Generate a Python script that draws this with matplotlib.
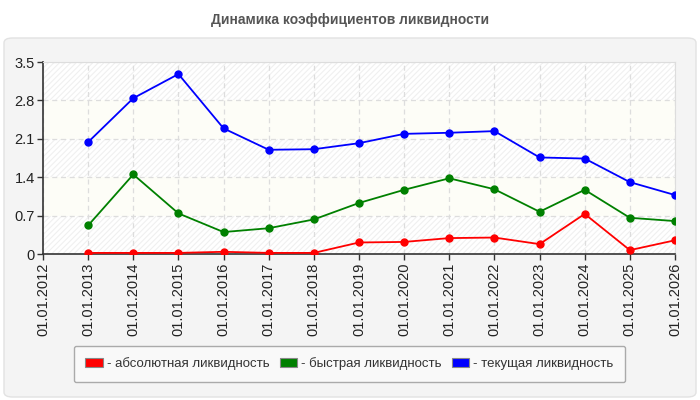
import matplotlib
matplotlib.use("Agg")
import matplotlib.pyplot as plt
from matplotlib.patches import FancyBboxPatch, Patch

plt.rcParams['font.family'] = ['Liberation Sans', 'DejaVu Sans']
plt.rcParams['hatch.linewidth'] = 0.8

years = list(range(2012, 2027))
tick_labels = ['01.01.%d' % y for y in years]
data_years = list(range(2013, 2027))

absolute = [0.02, 0.02, 0.02, 0.04, 0.02, 0.02, 0.21, 0.22, 0.29, 0.30, 0.18, 0.73, 0.07, 0.25]
quick = [0.52, 1.45, 0.74, 0.40, 0.47, 0.63, 0.93, 1.17, 1.38, 1.18, 0.77, 1.17, 0.66, 0.60]
current = [2.04, 2.84, 3.28, 2.29, 1.90, 1.91, 2.02, 2.19, 2.21, 2.24, 1.76, 1.74, 1.31, 1.075]

series_names = ['- абсолютная ликвидность', '- быстрая ликвидность', '- текущая ликвидность']
series_colors = ['#ff0000', '#008000', '#0000ff']
y_ticks = [0, 0.7, 1.4, 2.1, 2.8, 3.5]

fig = plt.figure(figsize=(7, 4), dpi=100)
fig.patch.set_facecolor('white')

# outer rounded panel
panel = FancyBboxPatch((4 / 700, 3 / 400), 692 / 700, 359 / 400,
                       boxstyle='round,pad=0,rounding_size=0.012',
                       transform=fig.transFigure, facecolor='#f4f4f4',
                       edgecolor='#e2e2e2', linewidth=1, zorder=-10)
fig.patches.append(panel)

fig.text(0.5, 1 - 20 / 400, 'Динамика коэффициентов ликвидности', ha='center', va='center',
         fontsize=10, fontweight='bold', color='#555555')

ax = fig.add_axes([43 / 700, 146 / 400, 632 / 700, 192 / 400])
ax.set_zorder(1)
ax.set_facecolor('white')

# alternating bands
for i in range(len(y_ticks) - 1):
    if i % 2 == 0:
        ax.axhspan(y_ticks[i], y_ticks[i + 1], facecolor='white', edgecolor='#f0f0f0',
                   hatch='//////', linewidth=0, zorder=0)
    else:
        ax.axhspan(y_ticks[i], y_ticks[i + 1], facecolor='#fdfdf7', linewidth=0, zorder=0)

for vals, col in zip([absolute, quick, current], series_colors):
    ax.plot(data_years, vals, color=col, linewidth=1.3, marker='o', markersize=5, zorder=3)

ax.set_xlim(2012, 2026)
ax.set_ylim(0, 3.5)
ax.set_xticks(years)
ax.set_xticklabels(tick_labels, rotation=90, fontsize=10.5, color='#222222')
ax.set_yticks(y_ticks)
ax.set_yticklabels(['0', '0.7', '1.4', '2.1', '2.8', '3.5'], fontsize=10.5, color='#222222')
ax.grid(True, linestyle=(0, (4, 3)), color='#dddddd', linewidth=0.9, zorder=1)
ax.set_axisbelow(True)
ax.tick_params(axis='both', length=4, width=1, color='#333333', pad=2)

for side in ['top', 'right']:
    ax.spines[side].set_color('#dddddd')
for side in ['left', 'bottom']:
    ax.spines[side].set_color('#333333')
    ax.spines[side].set_linewidth(1.2)

handles = [Patch(facecolor=c, edgecolor='#888888', linewidth=0.8) for c in series_colors]
leg = fig.legend(handles, series_names, loc='center', ncol=3,
                 bbox_to_anchor=(67 / 700, 17 / 400, 565 / 700, 38 / 400),
                 mode='expand', fontsize=9.5, frameon=True, fancybox=True,
                 handlelength=1.3, handleheight=0.7, handletextpad=0.3,
                 borderpad=0.9, columnspacing=2.0)
leg.get_frame().set_facecolor('#f9f9f9')
leg.get_frame().set_edgecolor('#aaaaaa')
leg.get_frame().set_alpha(1)
for t in leg.get_texts():
    t.set_color('#333333')

fig.savefig('out.png', dpi=100)
